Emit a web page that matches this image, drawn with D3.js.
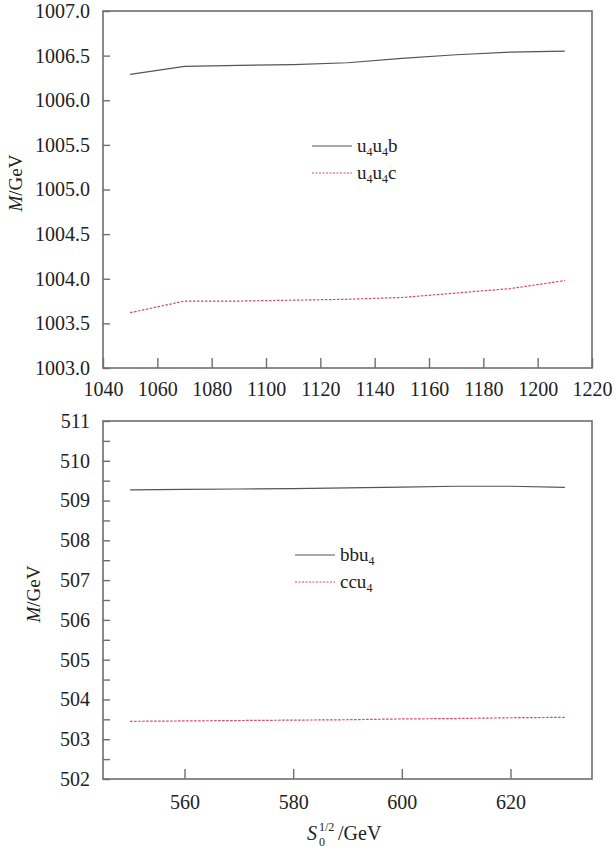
<!DOCTYPE html>
<html><head><meta charset="utf-8">
<script src="https://cdn.jsdelivr.net/npm/d3@7"></script>
<style>
body{margin:0;background:#fff;}
svg text{font-family:"Liberation Serif","Times New Roman",serif !important;fill:#222;}
</style></head>
<body><svg id="c" width="616" height="848"></svg>
<script>
// ---- data ----
const topX = [1050,1070,1090,1110,1130,1150,1170,1190,1210];
const u4u4b = [1006.29,1006.38,1006.39,1006.40,1006.42,1006.47,1006.51,1006.54,1006.55];
const u4u4c = [1003.62,1003.75,1003.75,1003.76,1003.77,1003.79,1003.84,1003.89,1003.98];
const topXTicks = [1040,1060,1080,1100,1120,1140,1160,1180,1200,1220];
const topYTicks = [1003.0,1003.5,1004.0,1004.5,1005.0,1005.5,1006.0,1006.5,1007.0];

const botX = [550,560,570,580,590,600,610,620,630];
const bbu4 = [509.27,509.28,509.29,509.30,509.32,509.34,509.36,509.36,509.33];
const ccu4 = [503.45,503.46,503.47,503.48,503.49,503.51,503.52,503.54,503.55];
const botXTicks = [560,580,600,620];
const botYTicks = [502,503,504,505,506,507,508,509,510,511];
const botYMinor = [502.5,503.5,504.5,505.5,506.5,507.5,508.5,509.5,510.5];

const svg = d3.select("#c");
const frameColor = "#6e6e6e";
const solidColor = "#555";
const dotColor = "#d9466a";
const FS = 20;
const SERIF = "Liberation Serif";

function panel(o){
  const x = d3.scaleLinear().domain(o.xDomain).range([103,592]);
  const y = d3.scaleLinear().domain(o.yDomain).range([o.bottom,o.top]);
  const g = svg.append("g");
  g.append("rect").attr("x",103).attr("y",o.top).attr("width",489).attr("height",o.bottom-o.top)
    .attr("fill","none").attr("stroke",frameColor).attr("stroke-width",1.6);
  const xa = g.append("g").attr("transform",`translate(0,${o.bottom})`)
    .call(d3.axisBottom(x).tickValues(o.xTicks).tickSize(-10).tickPadding(0).tickFormat(d3.format("d")))
    .attr("font-family",SERIF).attr("font-size",FS);
  xa.select(".domain").remove();
  xa.selectAll("line").attr("stroke",frameColor).attr("stroke-width",1.4);
  xa.selectAll("text").attr("dy",null).attr("y",o.xLabelDy).attr("fill","#222");
  const ya = g.append("g").attr("transform","translate(103,0)")
    .call(d3.axisLeft(y).tickValues(o.yTicks).tickSize(-7).tickPadding(13).tickFormat(o.yFmt))
    .attr("font-family",SERIF).attr("font-size",FS);
  ya.select(".domain").remove();
  ya.selectAll("line").attr("stroke",frameColor).attr("stroke-width",1.4);
  ya.selectAll("text").attr("fill","#222");
  if(o.yMinor){
    const ym = g.append("g").attr("transform","translate(103,0)")
      .call(d3.axisLeft(y).tickValues(o.yMinor).tickSize(-7).tickFormat(""));
    ym.select(".domain").remove();
    ym.selectAll("text").remove();
    ym.selectAll("line").attr("stroke",frameColor).attr("stroke-width",1.4);
  }
  const line = d3.line().x((d,i)=>x(o.xs[i])).y(d=>y(d));
  g.append("path").datum(o.s1).attr("d",line).attr("fill","none").attr("stroke",solidColor).attr("stroke-width",1.2);
  g.append("path").datum(o.s2).attr("d",line).attr("fill","none").attr("stroke",dotColor).attr("stroke-width",1.2).attr("stroke-dasharray","2.5,1.5");
  const L = o.legend;
  g.append("line").attr("x1",L.x1).attr("x2",L.x2).attr("y1",L.y1).attr("y2",L.y1).attr("stroke",solidColor).attr("stroke-width",1.1);
  g.append("line").attr("x1",L.x1).attr("x2",L.x2).attr("y1",L.y2).attr("y2",L.y2).attr("stroke",dotColor).attr("stroke-width",1.1).attr("stroke-dasharray","2,1.5");
  L.labels.forEach((parts,k)=>{
    const t = g.append("text").attr("x",L.tx).attr("y",(k?L.y2:L.y1)+6).attr("font-size",19);
    let shifted = false;
    parts.forEach(p=>{
      const ts = t.append("tspan").text(p.t);
      if(p.sub){ ts.attr("dy",4).attr("font-size",12); shifted = true; }
      else if(shifted){ ts.attr("dy",-4); shifted = false; }
    });
  });
  const yt = g.append("text").attr("transform",`translate(${o.yTitleX},${o.yTitleY}) rotate(-90)`)
    .attr("text-anchor","middle").attr("font-size",19);
  yt.append("tspan").text("M").attr("font-style","italic");
  yt.append("tspan").text("/GeV");
}

panel({xDomain:[1040,1220], yDomain:[1003,1007], top:11, bottom:368,
  xTicks:topXTicks, yTicks:topYTicks, yFmt:d3.format(".1f"), xLabelDy:28,
  xs:topX, s1:u4u4b, s2:u4u4c,
  legend:{x1:312,x2:352,y1:146,y2:173,tx:357,
    labels:[[{t:"u"},{t:"4",sub:1},{t:"u"},{t:"4",sub:1},{t:"b"}],[{t:"u"},{t:"4",sub:1},{t:"u"},{t:"4",sub:1},{t:"c"}]]},
  yTitleX:22, yTitleY:183});

panel({xDomain:[545,635], yDomain:[502,511], top:421, bottom:779,
  xTicks:botXTicks, yTicks:botYTicks, yMinor:botYMinor, yFmt:d3.format("d"), xLabelDy:30,
  xs:botX, s1:bbu4, s2:ccu4,
  legend:{x1:295,x2:335,y1:555,y2:582,tx:340,
    labels:[[{t:"bbu"},{t:"4",sub:1}],[{t:"ccu"},{t:"4",sub:1}]]},
  yTitleX:40, yTitleY:594});

const xt = svg.append("g").attr("transform","translate(307,840)");
xt.append("text").attr("x",0).attr("y",0).text("S").attr("font-size",20).attr("font-style","italic");
xt.append("text").attr("x",12).attr("y",-9).text("1/2").attr("font-size",12);
xt.append("text").attr("x",12).attr("y",6).text("0").attr("font-size",12);
xt.append("text").attr("x",31).attr("y",0).text("/GeV").attr("font-size",20);
</script></body></html>
